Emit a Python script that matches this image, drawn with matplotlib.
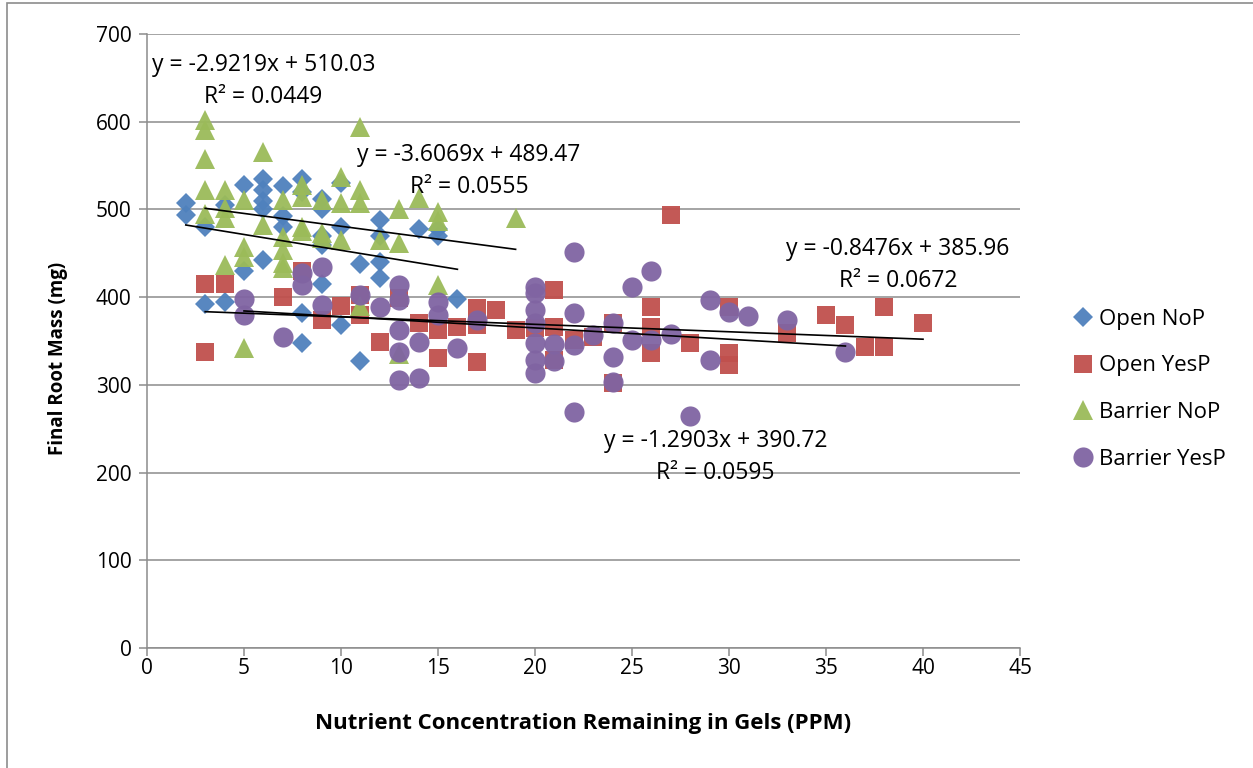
import matplotlib.pyplot as plt
from matplotlib.patches import Rectangle
import numpy as np

# ---- data ----
open_nop_x = [2, 2, 3, 3, 4, 4, 5, 5, 6, 6, 6, 6, 6, 7, 7, 7, 8, 8, 8, 8, 9, 9, 9, 9, 9,
              10, 10, 10, 11, 11, 12, 12, 12, 12, 14, 15, 15, 16]
open_nop_y = [507, 494, 480, 392, 505, 395, 528, 430, 535, 522, 510, 500, 442, 527, 492, 480,
              535, 520, 382, 348, 512, 500, 470, 460, 415, 530, 480, 368, 438, 327, 488, 470,
              440, 422, 478, 478, 470, 398]

open_yesp_x = [3, 3, 4, 7, 8, 9, 10, 11, 11, 12, 13, 14, 15, 15, 16, 17, 17, 17, 18, 19, 20,
               21, 21, 21, 22, 23, 24, 24, 26, 26, 26, 27, 28, 30, 30, 30, 33, 35, 36, 37, 38,
               38, 40]
open_yesp_y = [415, 338, 415, 400, 430, 374, 390, 402, 380, 349, 399, 370, 362, 331, 366, 388,
               368, 326, 385, 362, 365, 408, 366, 328, 351, 355, 370, 302, 389, 366, 336, 494,
               348, 389, 336, 323, 359, 380, 368, 343, 389, 343, 370]

barrier_nop_x = [3, 3, 3, 3, 3, 4, 4, 4, 4, 5, 5, 5, 5, 6, 6, 7, 7, 7, 7, 7, 8, 8, 8, 8, 9, 9,
                 9, 10, 10, 10, 11, 11, 11, 11, 12, 13, 13, 13, 14, 15, 15, 15, 19]
barrier_nop_y = [602, 590, 557, 522, 495, 522, 502, 490, 437, 511, 457, 446, 342, 565, 482,
                 511, 469, 454, 439, 433, 528, 514, 480, 475, 511, 473, 467, 537, 507, 465, 594,
                 522, 507, 390, 465, 500, 462, 335, 513, 497, 487, 414, 490]

barrier_yesp_x = [5, 5, 7, 8, 8, 9, 9, 11, 12, 13, 13, 13, 13, 13, 14, 14, 15, 15, 16, 17, 20,
                  20, 20, 20, 20, 20, 20, 21, 21, 22, 22, 22, 22, 23, 24, 24, 24, 25, 25, 26,
                  26, 27, 28, 29, 29, 30, 31, 33, 36]
barrier_yesp_y = [398, 380, 355, 428, 414, 434, 391, 403, 389, 414, 397, 363, 338, 306, 308,
                  349, 395, 380, 342, 374, 412, 405, 385, 371, 348, 328, 313, 347, 327, 452,
                  382, 345, 269, 357, 370, 332, 303, 411, 351, 430, 351, 358, 265, 397, 328,
                  383, 378, 374, 338]

# trendline equations as printed on the chart: slope, intercept, R2
trend_slopes = [-3.6069, -0.8476, -2.9219, -1.2903]
trend_intercepts = [489.47, 385.96, 510.03, 390.72]
trend_r2 = ["0.0555", "0.0672", "0.0449", "0.0595"]

labels = ["Open NoP", "Open YesP", "Barrier NoP", "Barrier YesP"]
colors = ["#4F81BD", "#C0504D", "#9BBB59", "#8064A2"]
markers = ["D", "s", "^", "o"]
msizes = [10.5, 13, 14, 14.5]

series_x = [open_nop_x, open_yesp_x, barrier_nop_x, barrier_yesp_x]
series_y = [open_nop_y, open_yesp_y, barrier_nop_y, barrier_yesp_y]

# label anchor positions (data coords) for the trendline equations
eq_pos = [(16.6, 544), (38.7, 437), (6.0, 646), (29.3, 218)]

plt.rcParams["font.family"] = ["Open Sans", "DejaVu Sans"]

fig = plt.figure(figsize=(12.53, 7.68), dpi=100)
ax = fig.add_axes([147 / 1253, 1 - 648 / 768, 873 / 1253, 614 / 768])

for xs, ys, lab, col, mk, ms in zip(series_x, series_y, labels, colors, markers, msizes):
    ax.plot(xs, ys, linestyle="none", marker=mk, markersize=ms, color=col,
            markeredgewidth=0, label=lab, alpha=0.95)

for xs, m, b, r2, (tx, ty) in zip(series_x, trend_slopes, trend_intercepts, trend_r2, eq_pos):
    xx = np.array([min(xs), max(xs)])
    ax.plot(xx, m * xx + b, color="black", linewidth=1.2, zorder=5)
    ax.text(tx, ty, "y = %.4fx + %.2f\nR² = %s" % (m, b, r2), ha="center", va="center",
            fontsize=16.5, linespacing=1.45, zorder=6)

ax.set_xlim(0, 45)
ax.set_ylim(0, 700)
ax.set_xticks(np.arange(0, 46, 5))
ax.set_yticks(np.arange(0, 701, 100))
ax.yaxis.grid(True, color="#8c8c8c", linewidth=1.1)
ax.set_axisbelow(True)
for s in ["top", "right"]:
    ax.spines[s].set_visible(False)
for s in ["left", "bottom"]:
    ax.spines[s].set_color("#8c8c8c")
    ax.spines[s].set_linewidth(1.1)
ax.tick_params(axis="both", colors="#8c8c8c", labelcolor="black", labelsize=15,
               length=6, width=1.1, direction="out")
ax.tick_params(axis="x", pad=1)
ax.tick_params(axis="y", pad=5)

ax.set_xlabel("Nutrient Concentration Remaining in Gels (PPM)", fontsize=16,
              fontweight="bold")
ax.xaxis.set_label_coords(0.5, -(723 - 648) / 614)
ax.xaxis.label.set_verticalalignment("center")
ax.set_ylabel("Final Root Mass (mg)", fontsize=13.5, fontweight="bold")
ax.yaxis.set_label_coords((58 - 147) / 873, (648 - 358) / 614)
ax.yaxis.label.set_verticalalignment("center")

fig.legend(loc="upper left", bbox_to_anchor=(1062 / 1253, 1 - 300 / 768), frameon=False,
           fontsize=16, labelspacing=1.15, handletextpad=0.15, handlelength=1.1,
           borderaxespad=0)

# outer chart border
fig.patches.append(Rectangle((7 / 1253, -0.05), 1.2, 1 - 3 / 768 + 0.05,
                             transform=fig.transFigure, fill=False,
                             edgecolor="#8c8c8c", linewidth=1.2))

fig.savefig("out.png", dpi=100)
